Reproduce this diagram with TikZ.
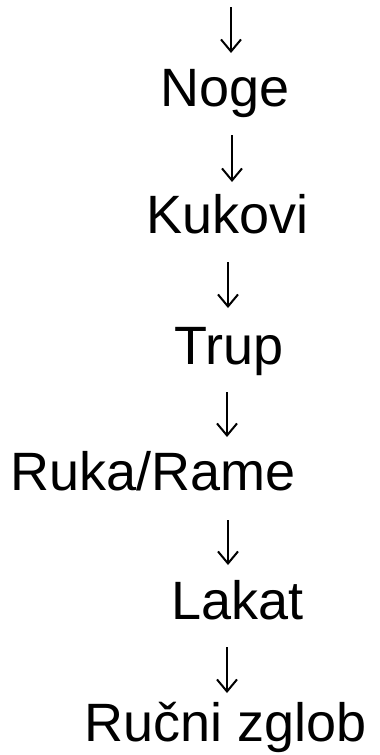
\documentclass[tikz,border=0pt]{standalone}
\usepackage{fontspec}
\setmainfont{Liberation Sans}
\usetikzlibrary{arrows.meta}
\begin{document}
\begin{tikzpicture}[x=1pt,y=-1pt,
  lbl/.style={anchor=base west,inner sep=0pt,font=\fontsize{54}{60}\selectfont},
  arr/.style={line width=2pt,-{Straight Barb[length=12pt,width=20pt,line width=2pt]}}]
\useasboundingbox[fill=white] (0,0) rectangle (380,755);
\node[lbl] (noge) at (160,106) {Noge};
\node[lbl] (kukovi) at (146,233) {Kukovi};
\node[lbl] (trup) at (174,364) {Trup};
\node[lbl] (ruka) at (10,490) {Ruka/Rame};
\node[lbl] (lakat) at (171,619) {Lakat};
\node[lbl] (rucni) at (84,741) {Ručni zglob};
\coordinate (a1s) at (231,7);   \coordinate (a1e) at (231,53);
\coordinate (a2s) at (232,135); \coordinate (a2e) at (232,182);
\coordinate (a3s) at (228,262); \coordinate (a3e) at (228,308);
\coordinate (a4s) at (227,392); \coordinate (a4e) at (227,437);
\coordinate (a5s) at (228,520); \coordinate (a5e) at (228,565);
\coordinate (a6s) at (227,647); \coordinate (a6e) at (227,693);
\foreach \i in {1,...,6} \draw[arr] (a\i s) -- (a\i e);
\end{tikzpicture}
\end{document}
